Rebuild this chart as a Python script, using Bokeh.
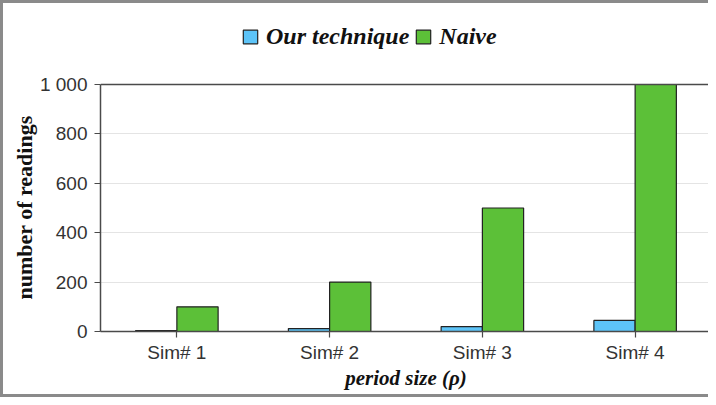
from bokeh.plotting import figure
from bokeh.models import (FactorRange, Range1d, Legend, LegendItem, FixedTicker,
                          ColumnDataSource, Span, Title)
from bokeh.transform import dodge
from bokeh.embed import file_html
from bokeh.resources import INLINE

categories = ["Sim# 1", "Sim# 2", "Sim# 3", "Sim# 4"]
our_technique = [4, 12, 20, 45]
naive = [100, 200, 500, 1000]
series_names = ["Our technique", "Naive"]
y_ticks = [0, 200, 400, 600, 800, 1000]
y_tick_labels = ["0", "200", "400", "600", "800", "1 000"]
x_title = "period size (\u03c1)"
y_title = "number of readings"

BLUE = "#5dc4f8"
GREEN = "#5cc038"
EDGE = "#222222"
AXIS = "#4a4a4a"

W, H = 708, 397
TOP, BOTTOM, LEFT = 15, 69, 97
frame_h = H - TOP - BOTTOM
top_gap = 66  # pixels between frame top and the 1 000 line (room for the legend)
y_max = y_ticks[-1]
y_end = y_max * frame_h / (frame_h - top_gap)

src = ColumnDataSource(dict(cat=categories, our=our_technique, naive=naive))

p = figure(
    x_range=FactorRange(*categories, range_padding=0),
    y_range=Range1d(0, y_end),
    width=W, height=H,
    output_backend="svg", toolbar_location=None,
    min_border_left=LEFT, min_border_right=0, min_border_top=TOP, min_border_bottom=BOTTOM,
)
p.styles = {
    "border-left": "3px solid #8a8a8a",
    "border-top": "3px solid #8a8a8a",
    "border-bottom": "3px solid #8a8a8a",
}

r1 = p.vbar(x=dodge("cat", -0.135, range=p.x_range), top="our", width=0.27, source=src,
            fill_color=BLUE, line_color=EDGE, line_width=1.2)
r2 = p.vbar(x=dodge("cat", 0.135, range=p.x_range), top="naive", width=0.27, source=src,
            fill_color=GREEN, line_color=EDGE, line_width=1.2)

p.background_fill_color = "white"
p.border_fill_color = "white"
p.outline_line_color = None

p.xgrid.grid_line_color = None
p.ygrid.grid_line_color = "#e4e4e4"
p.ygrid.grid_line_width = 1
p.add_layout(Span(location=y_max, dimension="width", line_color=AXIS, line_width=1.5))

p.yaxis.ticker = FixedTicker(ticks=y_ticks)
p.yaxis.bounds = (0, y_max)
p.yaxis.major_label_overrides = {t: l for t, l in zip(y_ticks, y_tick_labels)}
p.yaxis.minor_tick_line_color = None
p.yaxis.major_tick_out = 6
p.yaxis.major_tick_in = 0
p.yaxis.major_label_standoff = 7

# y-axis title centred on the 0..1000 span (not on the whole frame)
ytitle = Title(text=y_title, align="left", offset=32,
               text_font="Liberation Serif", text_font_style="bold",
               text_font_size="22px", text_color="#111111", standoff=0)
p.add_layout(ytitle, "left")

p.xaxis.major_tick_out = 6
p.xaxis.major_tick_in = 0
p.xaxis.major_label_standoff = 4
p.xaxis.axis_label = x_title
p.xaxis.axis_label_standoff = 0
p.xaxis.axis_label_text_font = "Liberation Serif"
p.xaxis.axis_label_text_font_style = "bold italic"
p.xaxis.axis_label_text_font_size = "21px"
p.xaxis.axis_label_text_color = "#111111"

for ax in (p.xaxis, p.yaxis):
    ax.axis_line_color = AXIS
    ax.axis_line_width = 1.5
    ax.major_tick_line_color = AXIS
    ax.major_tick_line_width = 1.2
    ax.major_label_text_font = "Liberation Sans"
    ax.major_label_text_font_size = "19px"
    ax.major_label_text_color = "#333333"

legend = Legend(
    items=[LegendItem(label=series_names[0], renderers=[r1]),
           LegendItem(label=series_names[1], renderers=[r2])],
    orientation="horizontal",
    location=(141, frame_h - 32),
    padding=0, margin=0, spacing=5,
    glyph_width=18, glyph_height=17, label_standoff=7,
    label_text_font="Liberation Serif", label_text_font_style="bold italic",
    label_text_font_size="24px", label_text_color="#111111",
    border_line_color=None, background_fill_alpha=0,
)
p.add_layout(legend, "center")

open("out.html", "w").write(file_html(p, INLINE))
